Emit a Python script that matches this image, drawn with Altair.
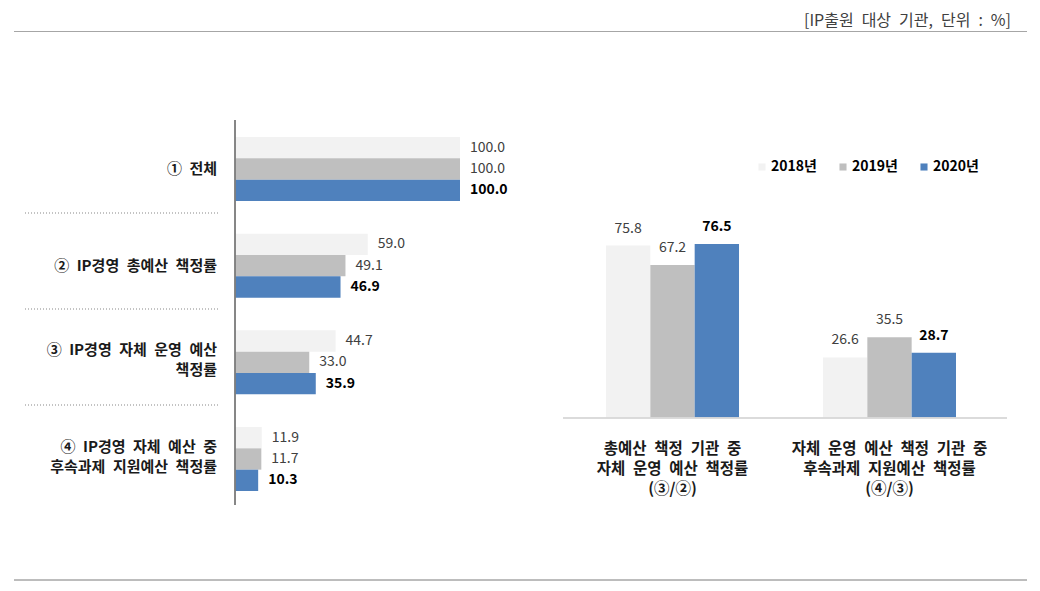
import altair as alt
import pandas as pd

# ---------------- data ----------------
years = ["2018년", "2019년", "2020년"]
colors = ["#F2F2F2", "#BFBFBF", "#4F81BD"]

left_ids = ["c1", "c2", "c3", "c4"]
left_labels = [
    "①\u2002전체",
    "②\u2002IP경영\u2002총예산\u2002책정률",
    "③\u2002IP경영\u2002자체\u2002운영\u2002예산\n책정률",
    "④\u2002IP경영\u2002자체\u2002예산\u2002중\n후속과제\u2002지원예산\u2002책정률",
]
left_2018 = [100.0, 59.0, 44.7, 11.9]
left_2019 = [100.0, 49.1, 33.0, 11.7]
left_2020 = [100.0, 46.9, 35.9, 10.3]

right_ids = ["r1", "r2"]
right_labels = [
    "총예산\u2002책정\u2002기관\u2002중\n자체\u2002운영\u2002예산\u2002책정률\n(③/②)",
    "자체\u2002운영\u2002예산\u2002책정\u2002기관\u2002중\n후속과제\u2002지원예산\u2002책정률\n(④/③)",
]
right_2018 = [75.8, 26.6]
right_2019 = [67.2, 35.5]
right_2020 = [76.5, 28.7]

title_text = "[IP출원\u2002대상\u2002기관,\u2002단위\u2002:\u2002%]"

FONT = "Noto Sans CJK KR"

rows = []
for i, c in enumerate(left_ids):
    for y, vals in zip(years, [left_2018, left_2019, left_2020]):
        rows.append({"cat": c, "year": y, "value": vals[i]})
left_df = pd.DataFrame(rows)
left_lab_df = pd.DataFrame({"cat": left_ids, "label": left_labels})
left_lab_df["lines"] = left_lab_df["label"].str.count("\n") + 1

rows = []
for i, c in enumerate(right_ids):
    for y, vals in zip(years, [right_2018, right_2019, right_2020]):
        rows.append({"cat": c, "year": y, "value": vals[i]})
right_df = pd.DataFrame(rows)
right_lab_df = pd.DataFrame({"cat": right_ids, "label": right_labels})

# ---------------- scales ----------------
LX = alt.Scale(domain=[0, 100], range=[227, 452])
LY = alt.Scale(domain=left_ids, range=[129, 483], paddingInner=0.338, paddingOuter=0)
LY_B = alt.Scale(type="band", domain=left_ids, range=[129, 483], paddingInner=0.338, paddingOuter=0)
OFF = alt.Scale(domain=years, paddingInner=0, paddingOuter=0)
OFF_T = alt.Scale(type="point", domain=years, padding=0.5)
RX = alt.Scale(domain=right_ids, range=[598, 948], paddingInner=0.387, paddingOuter=0)
RX_B = alt.Scale(type="band", domain=right_ids, range=[598, 948], paddingInner=0.387, paddingOuter=0)
RY = alt.Scale(domain=[0, 100], range=[410, 182.5])
COLOR = alt.Color(
    "year:N",
    scale=alt.Scale(domain=years, range=colors),
    legend=alt.Legend(
        title=None, orient="none", legendX=747, legendY=152, direction="horizontal",
        symbolType="square", symbolSize=50, symbolStrokeWidth=0,
        labelFont=FONT, labelFontSize=14, labelFontWeight="bold", labelColor="#000000",
        labelOffset=2, columnPadding=19, padding=0,
    ),
)

# ---------------- left chart ----------------
left_bars = alt.Chart(left_df).mark_bar().encode(
    x=alt.X("value:Q", scale=LX, axis=None),
    y=alt.Y("cat:N", scale=LY, axis=None),
    yOffset=alt.YOffset("year:N", scale=OFF),
    color=COLOR,
)


def left_values(bold):
    flt = (alt.datum.year == "2020년") if bold else (alt.datum.year != "2020년")
    return alt.Chart(left_df).transform_filter(flt).mark_text(
        align="left", baseline="middle", dx=10, font=FONT, fontSize=14,
        fontWeight="bold" if bold else "normal",
        color="#000000" if bold else "#404040",
    ).encode(
        x=alt.X("value:Q", scale=LX, axis=None),
        y=alt.Y("cat:N", scale=LY, axis=None),
        yOffset=alt.YOffset("year:N", scale=OFF_T),
        text=alt.Text("value:Q", format=".1f"),
    )


def left_cats(n, dy):
    return alt.Chart(left_lab_df).transform_filter(alt.datum.lines == n).mark_text(
        align="right", baseline="middle", lineBreak="\n", lineHeight=20, dy=dy,
        font=FONT, fontSize=15, fontWeight="bold", color="#1a1a1a"
    ).encode(
        x=alt.value(209),
        y=alt.Y("cat:N", scale=LY_B, axis=None),
        text="label:N",
    )


left_axis = alt.Chart(left_lab_df).mark_rule(color="#7F7F7F", strokeWidth=1).encode(
    x=alt.value(227), y=alt.value(112), y2=alt.value(497)
)
seps = [
    alt.Chart(left_lab_df).mark_rule(color="#BFBFBF", strokeWidth=1, strokeDash=[1, 2]).encode(
        x=alt.value(17), x2=alt.value(210), y=alt.value(yy)
    )
    for yy in (205, 301, 397)
]

# ---------------- right chart ----------------
right_bars = alt.Chart(right_df).mark_bar().encode(
    x=alt.X("cat:N", scale=RX, axis=None),
    xOffset=alt.XOffset("year:N", scale=OFF),
    y=alt.Y("value:Q", scale=RY, axis=None),
    color=COLOR,
)


def right_values(bold):
    flt = (alt.datum.year == "2020년") if bold else (alt.datum.year != "2020년")
    return alt.Chart(right_df).transform_filter(flt).mark_text(
        align="center", baseline="alphabetic", dy=-13, font=FONT, fontSize=14,
        fontWeight="bold" if bold else "normal",
        color="#000000" if bold else "#404040",
    ).encode(
        x=alt.X("cat:N", scale=RX, axis=None),
        xOffset=alt.XOffset("year:N", scale=OFF_T),
        y=alt.Y("value:Q", scale=RY, axis=None),
        text=alt.Text("value:Q", format=".1f"),
    )


right_cat = alt.Chart(right_lab_df).mark_text(
    align="center", baseline="middle", lineBreak="\n", lineHeight=20,
    font=FONT, fontSize=15.5, fontWeight="bold", color="#1a1a1a"
).encode(
    x=alt.X("cat:N", scale=RX_B, axis=None),
    y=alt.value(441),
    text="label:N",
)
right_base = alt.Chart(right_lab_df).mark_rule(color="#D9D9D9", strokeWidth=1.5).encode(
    x=alt.value(555), x2=alt.value(999), y=alt.value(410)
)

# ---------------- frame ----------------
top_rule = alt.Chart(right_lab_df).mark_rule(color="#A6A6A6", strokeWidth=1).encode(
    x=alt.value(6), x2=alt.value(1019), y=alt.value(23.5)
)
bottom_rule = alt.Chart(right_lab_df).mark_rule(color="#A6A6A6", strokeWidth=1).encode(
    x=alt.value(6), x2=alt.value(1019), y=alt.value(572)
)
title = alt.Chart(pd.DataFrame({"t": [title_text]})).mark_text(
    align="right", baseline="middle", font=FONT, fontSize=16, color="#404040"
).encode(x=alt.value(1003), y=alt.value(12.5), text="t:N")

chart = alt.layer(
    top_rule, bottom_rule, title,
    *seps, left_bars, left_values(False), left_values(True),
    left_cats(1, 0), left_cats(2, -12), left_axis,
    right_bars, right_values(False), right_values(True), right_cat, right_base,
).resolve_scale(
    x="independent", y="independent", xOffset="independent", yOffset="independent"
).properties(
    width=1020, height=578, padding=0,
    autosize=alt.AutoSizeParams(type="none"),
).configure_view(stroke=None)

chart.save("out.html", embed_options={"renderer": "svg", "actions": False})
